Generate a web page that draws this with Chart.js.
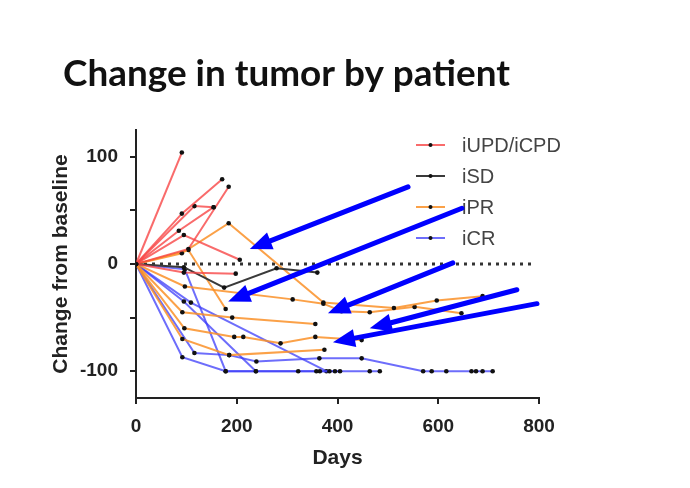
<!DOCTYPE html>
<html>
<head>
<meta charset="utf-8">
<script src="https://cdn.jsdelivr.net/npm/chart.js@4.4.1/dist/chart.umd.min.js"></script>
<style>
    body { margin: 0; background: #fff; }
    #chart { display: block; }
</style>
</head>
<body>
<canvas id="chart" width="690" height="488"></canvas>
<script>
    "use strict";
    // each patient is a list of [days, change from baseline]
    var iUPD = [
        [[0, 0], [91, 104]],
        [[0, 0], [91, 47], [171, 79]],
        [[0, 0], [116, 54], [154, 53]],
        [[0, 0], [85, 31], [154, 53]],
        [[0, 0], [95, 27], [206, 4]],
        [[0, 0], [104, 14], [184, 72]],
        [[0, 0], [95, -8], [198, -9]]
    ];
    var iSD = [
        [[0, 0], [95, -3], [175, -22], [279, -4], [360, -8]]
    ];
    var iPR = [
        [[0, 0], [91, 10], [184, 38], [372, -36], [512, -41], [597, -34], [688, -30]],
        [[0, 0], [104, 13], [178, -42]],
        [[0, 0], [97, -21], [311, -33], [372, -37], [408, -44], [464, -45], [553, -40], [646, -46]],
        [[0, 0], [92, -45], [191, -50], [356, -56]],
        [[0, 0], [96, -60], [195, -68], [213, -68], [287, -74], [356, -68], [448, -71]],
        [[0, 0], [92, -70], [185, -85], [374, -80]]
    ];
    var iCR = [
        [[0, 0], [92, -87], [178, -100], [238, -100], [322, -100], [358, -100], [365, -100], [384, -100], [395, -100], [405, -100]],
        [[0, 0], [116, -83], [185, -85], [239, -91], [364, -88], [448, -88], [570, -100], [587, -100], [616, -100], [666, -100], [675, -100], [688, -100], [708, -100]],
        [[0, 0], [97, -5], [178, -100], [464, -100], [484, -100]],
        [[0, 0], [95, -35], [238, -100]],
        [[0, 0], [109, -36], [378, -100]]
    ];
    var baselineDays = [0, 785];
    var xTicks = [0, 200, 400, 600, 800];
    var yTicks = [-100, -50, 0, 50, 100];
    var yLabels = [-100, 0, 100];
    // arrows drawn on top of the chart: [tailDays, tailValue, headDays, headValue]
    var arrows = [
        [540, 72, 226, 14],
        [647, 52, 183, -35],
        [629, 1, 381, -46],
        [756, -24, 464, -60],
        [796, -37, 391, -73]
    ];

    var groups = [
        {name: 'iUPD/iCPD', patients: iUPD, color: 'rgba(248,70,70,0.8)'},
        {name: 'iSD', patients: iSD, color: '#3a3a3a'},
        {name: 'iPR', patients: iPR, color: 'rgba(250,145,40,0.85)'},
        {name: 'iCR', patients: iCR, color: 'rgba(60,60,250,0.75)'}
    ];

    var datasets = [{
        label: 'baseline',
        data: baselineDays.map(function (d) { return {x: d, y: 0}; }),
        borderColor: '#333',
        borderWidth: 3,
        borderDash: [3, 5],
        pointRadius: 0,
        order: 10
    }];
    groups.forEach(function (g) {
        g.patients.forEach(function (p) {
            datasets.push({
                label: g.name,
                data: p.map(function (pt) { return {x: pt[0], y: pt[1]}; }),
                borderColor: g.color,
                borderWidth: 2,
                pointRadius: 2.3,
                pointBackgroundColor: '#111',
                pointBorderWidth: 0,
                tension: 0
            });
        });
    });

    var titlePlugin = {
        id: 'bigTitle',
        afterDraw: function (chart) {
            var ctx = chart.ctx;
            ctx.save();
            ctx.font = 'bold 32px Lato';
            var w = ctx.measureText('Change in tumor by patient').width;
            var size = 32 * 447 / w;
            ctx.font = 'bold ' + size.toFixed(1) + 'px Lato';
            ctx.fillStyle = '#111';
            ctx.textBaseline = 'alphabetic';
            ctx.fillText('Change in tumor by patient', 63, 86);
            ctx.restore();
        }
    };

    var legendPlugin = {
        id: 'groupLegend',
        afterDraw: function (chart) {
            var ctx = chart.ctx;
            ctx.save();
            groups.forEach(function (g, i) {
                var y = 145 + i * 31;
                ctx.strokeStyle = g.color;
                ctx.lineWidth = 2;
                ctx.beginPath();
                ctx.moveTo(416, y);
                ctx.lineTo(445, y);
                ctx.stroke();
                ctx.fillStyle = '#111';
                ctx.beginPath();
                ctx.arc(430.5, y, 2, 0, Math.PI * 2);
                ctx.fill();
                ctx.fillStyle = '#444';
                ctx.font = '20px "Liberation Sans"';
                ctx.textBaseline = 'middle';
                ctx.fillText(g.name, 462, y + 1);
            });
            ctx.restore();
        }
    };

    var arrowPlugin = {
        id: 'arrows',
        afterDraw: function (chart) {
            var ctx = chart.ctx;
            var sx = chart.scales.x, sy = chart.scales.y;
            ctx.save();
            ctx.strokeStyle = '#0000ff';
            ctx.fillStyle = '#0000ff';
            ctx.lineWidth = 5;
            ctx.lineCap = 'round';
            arrows.forEach(function (a) {
                var x1 = sx.getPixelForValue(a[0]), y1 = sy.getPixelForValue(a[1]);
                var x2 = sx.getPixelForValue(a[2]), y2 = sy.getPixelForValue(a[3]);
                var ang = Math.atan2(y2 - y1, x2 - x1);
                var len = 22, half = 9;
                var bx = x2 - len * Math.cos(ang), by = y2 - len * Math.sin(ang);
                ctx.beginPath();
                ctx.moveTo(x1, y1);
                ctx.lineTo(bx, by);
                ctx.stroke();
                ctx.beginPath();
                ctx.moveTo(x2, y2);
                ctx.lineTo(bx + half * Math.sin(ang), by - half * Math.cos(ang));
                ctx.lineTo(bx - half * Math.sin(ang), by + half * Math.cos(ang));
                ctx.closePath();
                ctx.fill();
            });
            ctx.restore();
        }
    };

    var axisFont = {family: '"Liberation Sans", Arial, sans-serif', size: 19, weight: 'bold'};
    var axisTitleFont = {family: '"Liberation Sans", Arial, sans-serif', size: 21, weight: 'bold'};

    new Chart(document.getElementById('chart'), {
        type: 'line',
        data: {datasets: datasets},
        plugins: [titlePlugin, legendPlugin, arrowPlugin],
        options: {
            responsive: false,
            animation: false,
            devicePixelRatio: 1,
            layout: {padding: {left: 49, right: 151, top: 130, bottom: 17}},
            plugins: {
                legend: {display: false},
                title: {display: false},
                tooltip: {enabled: false}
            },
            scales: {
                x: {
                    type: 'linear',
                    min: 0,
                    max: 800,
                    afterFit: function (scale) { scale.height = 73; },
                    afterBuildTicks: function (scale) {
                        scale.ticks = xTicks.map(function (v) { return {value: v}; });
                    },
                    ticks: {color: '#222', font: axisFont, padding: 11, autoSkip: false, maxRotation: 0},
                    grid: {drawOnChartArea: false, drawTicks: true, tickLength: 6, color: '#222', lineWidth: 2},
                    border: {color: '#222', width: 2},
                    title: {display: true, text: 'Days', color: '#222', padding: 0, font: axisTitleFont}
                },
                y: {
                    type: 'linear',
                    min: -125,
                    max: 125,
                    afterFit: function (scale) { scale.width = 87; },
                    afterBuildTicks: function (scale) {
                        scale.ticks = yTicks.map(function (v) { return {value: v}; });
                    },
                    ticks: {
                        color: '#222', font: axisFont, padding: 12, autoSkip: false,
                        callback: function (v) { return yLabels.indexOf(v) >= 0 ? String(v) : ''; }
                    },
                    grid: {drawOnChartArea: false, drawTicks: true, tickLength: 6, color: '#222', lineWidth: 2},
                    border: {color: '#222', width: 2},
                    title: {display: true, text: 'Change from baseline', color: '#222', padding: 0, font: axisTitleFont}
                }
            }
        }
    });
</script>
</body>
</html>
